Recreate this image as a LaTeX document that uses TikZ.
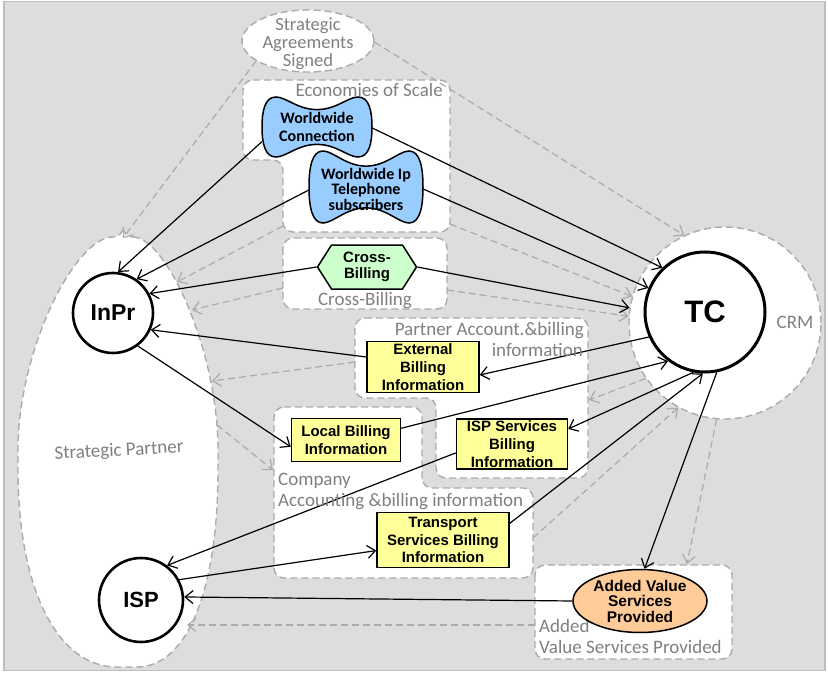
\documentclass[tikz,border=0pt]{standalone}
\usepackage{fontspec}
\setmainfont{Liberation Sans}
\newfontfamily\califont{Carlito}
\usetikzlibrary{arrows.meta,shapes.geometric,shapes.symbols}

\definecolor{panel}{HTML}{DDDDDD}
\definecolor{panelframe}{HTML}{BDBDBD}
\definecolor{dashgray}{HTML}{ABABAB}
\definecolor{labelgray}{HTML}{808080}
\definecolor{skyfill}{HTML}{99CCFF}
\definecolor{mintfill}{HTML}{CCFFCC}
\definecolor{lemonfill}{HTML}{FFFF99}
\definecolor{peachfill}{HTML}{FFCC99}

\pgfdeclarelayer{regions}
\pgfdeclarelayer{links}
\pgfsetlayers{regions,links,main}

% wavy "bone" outline: centre x, centre y, half width, half height
\newcommand\wavyshape[4]{%
  \path[blobstyle, shift={(#1,#2)}]
    (-#3,0) .. controls (-#3,{-0.55*#4}) and ({-#3+3},-#4) .. ({-#3+14},-#4)
    .. controls ({-#3+24},-#4) and ({-0.35*#3},{-0.58*#4}) .. (0,{-0.58*#4})
    .. controls ({0.35*#3},{-0.58*#4}) and ({#3-24},-#4) .. ({#3-14},-#4)
    .. controls ({#3-3},-#4) and (#3,{-0.55*#4}) .. (#3,0)
    .. controls (#3,{0.55*#4}) and ({#3-3},#4) .. ({#3-14},#4)
    .. controls ({#3-24},#4) and ({0.35*#3},{0.58*#4}) .. (0,{0.58*#4})
    .. controls ({-0.35*#3},{0.58*#4}) and ({-#3+24},#4) .. ({-#3+14},#4)
    .. controls ({-#3+3},#4) and (-#3,{0.55*#4}) .. cycle;}

\tikzset{
  region/.style={fill=white, draw=dashgray, line width=1.4pt,
    dash pattern=on 7pt off 4pt, rounded corners=10pt},
  grouptext/.style={text=labelgray, inner sep=0pt,
    font=\califont\fontsize{19}{19}\selectfont},
  flow/.style={draw=black, line width=1.2pt,
    -{Straight Barb[length=8pt,width=13pt]}},
  trace/.style={draw=dashgray, line width=1.2pt, dash pattern=on 7pt off 4pt,
    -{Straight Barb[length=8pt,width=13pt]}},
  blobstyle/.style={fill=skyfill, draw=black, line width=1.5pt},
  blobtext/.style={inner sep=0pt, align=center},
  infobox/.style={rectangle, draw=black, fill=lemonfill, line width=1.5pt,
    inner sep=0pt, align=center, font=\bfseries\fontsize{15}{18}\selectfont},
  actor/.style={circle, draw=black, fill=white, line width=2.6pt, inner sep=0pt}
}

\begin{document}
\begin{tikzpicture}[x=1pt,y=-1pt]
\useasboundingbox (0,0) rectangle (828,674);

\begin{pgfonlayer}{regions}
  % panel
  \fill[panel] (4,1.5) rectangle (825,670.5);
  \draw[panelframe, line width=1.2pt] (4,1.5) rectangle (825,670.5);

  % strategic partner region
  \path[region] (123,237) .. controls (166,237) and (218,350) .. (218,460)
    .. controls (218,588) and (188,667) .. (127,667)
    .. controls (57,667) and (18,588) .. (18,460)
    .. controls (18,350) and (75,237) .. cycle;

  % grouping regions
  \path[region] (243,80) -- (450,80) -- (450,232) -- (283,232) -- (283,160)
    -- (243,160) -- cycle;
  \path[region] (283,238) rectangle (447,309);
  \path[region] (355,318) -- (588,318) -- (588,478) -- (436,478) -- (436,398)
    -- (355,398) -- cycle;
  \path[region] (274,407) -- (422,407) -- (422,488) -- (533,488) -- (533,578)
    -- (274,578) -- cycle;
  \path[region] (535,565) rectangle (732,659);

  \node[region, ellipse, minimum width=132pt, minimum height=62pt, inner sep=0pt]
    (sas) at (308,41) {};
  \node[region, circle, minimum size=192pt, inner sep=0pt] (crm) at (725,323) {};
\end{pgfonlayer}

% region labels
\node[align=center, text=labelgray, inner sep=0pt,
  font=\califont\fontsize{18.5}{18}\selectfont]
  (sas label) at (308,44) {Strategic\\Agreements\\Signed};
\node[grouptext, anchor=base east] (econ label) at (443,97) {Economies of Scale};
\node[grouptext, anchor=base] (xb label) at (365,305) {Cross-Billing};
\node[grouptext, anchor=base east] (partner label a) at (584,335) {Partner Account.\&billing};
\node[grouptext, anchor=base east] (partner label b) at (583,356) {information};
\node[grouptext, anchor=base west] (company label a) at (278,485) {Company};
\node[grouptext, anchor=base west] (company label b) at (278,506) {Accounting \&billing information};
\node[grouptext, anchor=base west] (avr label a) at (539,632) {Added};
\node[grouptext, anchor=base west] (avr label b) at (539,653) {Value Services Provided};
\node[grouptext, anchor=base] (crm label) at (795,328) {CRM};
\node[grouptext, rotate=3] (sp label) at (119,451) {Strategic Partner};

% region border points used by the dotted links
\coordinate (sp top) at (123,238);
\coordinate (sp a) at (177,282);
\coordinate (sp b) at (192,310);
\coordinate (sp c) at (212,381);
\coordinate (sp d) at (217,425);
\coordinate (sp e) at (187,625);
\coordinate (econ sw) at (283,226);
\coordinate (econ se) at (450,224);
\coordinate (xb w) at (283,288);
\coordinate (xb e) at (447,290);
\coordinate (partner w) at (355,362);
\coordinate (partner e) at (589,400);
\coordinate (company w) at (273,470);
\coordinate (company e) at (533,538);
\coordinate (avr n) at (687,564);
\coordinate (avr w) at (535,625);

% wavy shapes
\wavyshape{317}{127}{55}{30}
\wavyshape{366}{187}{57}{36}
\node[blobtext, minimum width=110pt, minimum height=60pt,
  font=\califont\bfseries\fontsize{16}{18}\selectfont]
  (wc) at (317,127) {Worldwide\\Connection};
\node[blobtext, minimum width=114pt, minimum height=72pt,
  font=\califont\bfseries\fontsize{16}{15.5}\selectfont]
  (wip) at (366,189) {Worldwide Ip\\Telephone\\subscribers};

% main elements
\node[signal, signal to=east and west, signal pointer angle=115,
  draw=black, fill=mintfill, line width=1.5pt, inner sep=0pt,
  minimum width=99pt, minimum height=44pt, align=center,
  font=\bfseries\fontsize{15}{16}\selectfont] (cb) at (367,267) {Cross-\\Billing};

\node[actor, minimum size=80pt, font=\bfseries\fontsize{23}{26}\selectfont]
  (inpr) at (113,313) {InPr};
\node[actor, minimum size=84pt, font=\bfseries\fontsize{22}{26}\selectfont]
  (isp) at (141,600) {ISP};
\node[actor, line width=3pt, minimum size=120pt, font=\bfseries\fontsize{31}{34}\selectfont]
  (tc) at (705,312) {TC};

\node[infobox, minimum width=112pt, minimum height=51pt] (ext) at (423,367)
  {External\\Billing\\Information};
\node[infobox, minimum width=109pt, minimum height=43pt] (loc) at (346,440)
  {Local Billing\\Information};
\node[infobox, minimum width=111pt, minimum height=50pt] (isb) at (512,444)
  {ISP Services\\Billing\\Information};
\node[infobox, minimum width=132pt, minimum height=55pt,
  font=\bfseries\fontsize{15}{17.5}\selectfont] (tsb) at (443,540)
  {Transport\\Services Billing\\Information};

\node[ellipse, draw=black, fill=peachfill, line width=1.5pt, inner sep=0pt,
  minimum width=134pt, minimum height=63pt, align=center,
  font=\bfseries\fontsize{15.5}{15.5}\selectfont] (avs) at (640,601)
  {Added Value\\Services\\Provided};

\begin{pgfonlayer}{links}
  % dashed links between the groupings
  \draw[trace] (sas.201) -- (sp top);
  \draw[trace] (sas.359) -- (crm.115);
  \draw[trace] (econ sw) -- (sp a);
  \draw[trace] (econ se) -- (crm.164);
  \draw[trace] (xb w) -- (sp b);
  \draw[trace] (xb e) -- (crm.176);
  \draw[trace] (partner w) -- (sp c);
  \draw[trace] (crm.215) -- (partner e);
  \draw[trace] (sp d) -- (company w);
  \draw[trace] (company e) -- (crm.241);
  \draw[trace] (crm.265) -- (avr n);
  \draw[trace] (avr w) -- (sp e);

  % solid flows
  \draw[flow] (wc.195) -- (inpr.83);
  \draw[flow] (wc.359) -- (tc.134);
  \draw[flow] (wip.181) -- (inpr.55);
  \draw[flow] (wip.east) -- (tc.157);
  \draw[flow] (cb.west) -- (inpr.28);
  \draw[flow] (cb.east) -- (crm.171);
  \draw[flow] (ext.170) -- (inpr.336);
  \draw[flow] (tc.204) -- (ext.352);
  \draw[flow] (inpr.307) -- (loc.187);
  \draw[flow] (loc.12) -- (tc.233);
  \draw[flow] (tc.259) -- (isb.15);
  \draw[flow] (isb.189) -- (isp.53);
  \draw[flow] (isp.28) -- (tsb.189);
  \draw[flow] (tsb.14) -- (tc.268);
  \draw[flow] (tc.281) -- (avs.82);
  \draw[flow] (avs.west) -- (isp.4);
\end{pgfonlayer}
\end{tikzpicture}
\end{document}
